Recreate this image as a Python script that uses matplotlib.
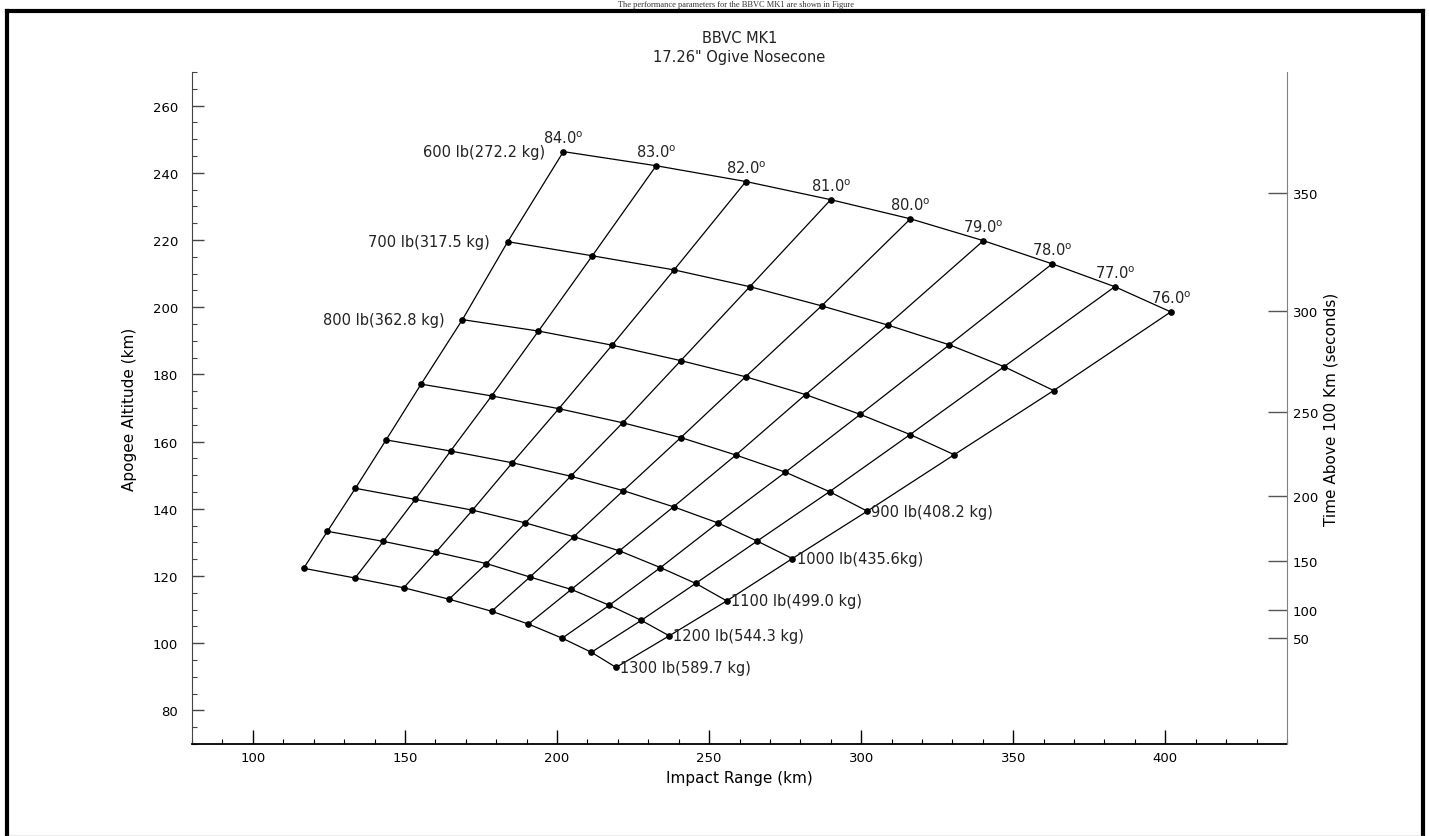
import numpy as np
import matplotlib.pyplot as plt
from matplotlib.ticker import MultipleLocator, NullLocator
from matplotlib.lines import Line2D

# launch angles (columns) and payload masses (rows)
angles = [84.0, 83.0, 82.0, 81.0, 80.0, 79.0, 78.0, 77.0, 76.0]
mass_lb = [600, 700, 800, 900, 1000, 1100, 1200, 1300]
mass_kg = ["272.2 kg", "317.5 kg", "362.8 kg", "408.2 kg", "435.6kg",
           "499.0 kg", "544.3 kg", "589.7 kg"]

# impact range (km) and apogee altitude (km), one value per launch angle
range_600 = [202.1, 232.6, 262.1, 290.0, 316.2, 340.2, 362.8, 383.4, 401.8]
apogee_600 = [246.3, 242.1, 237.4, 232.0, 226.3, 219.8, 212.9, 206.1, 198.6]
range_700 = [183.8, 211.6, 238.5, 263.4, 287.0, 308.7, 329.0, 347.0, 363.3]
apogee_700 = [219.5, 215.3, 211.1, 206.1, 200.4, 194.7, 188.8, 182.3, 175.2]
range_800 = [168.9, 193.9, 218.1, 240.7, 262.0, 281.7, 299.7, 316.1, 330.6]
apogee_800 = [196.3, 192.9, 188.7, 184.1, 179.3, 174.0, 168.1, 162.1, 156.1]
range_900 = [155.3, 178.5, 200.6, 221.6, 240.7, 258.8, 275.1, 289.6, 302.0]
apogee_900 = [177.1, 173.6, 169.8, 165.6, 161.2, 156.0, 150.9, 145.1, 139.3]
range_1000 = [143.8, 165.0, 185.3, 204.5, 221.8, 238.3, 252.9, 265.8, 277.4]
apogee_1000 = [160.5, 157.2, 153.7, 149.7, 145.4, 140.6, 135.8, 130.4, 125.2]
range_1100 = [133.7, 153.4, 172.2, 189.6, 205.5, 220.5, 234.0, 245.6, 255.8]
apogee_1100 = [146.1, 142.8, 139.6, 135.8, 131.7, 127.5, 122.5, 117.8, 112.6]
range_1200 = [124.5, 142.9, 160.2, 176.8, 191.1, 204.7, 217.2, 227.7, 236.9]
apogee_1200 = [133.3, 130.3, 127.1, 123.7, 119.7, 116.0, 111.3, 106.8, 102.2]
range_1300 = [116.7, 133.6, 149.6, 164.5, 178.5, 190.6, 201.7, 211.3, 219.4]
apogee_1300 = [122.3, 119.4, 116.5, 113.1, 109.5, 105.7, 101.5, 97.3, 92.8]

# right axis: time above 100 km (s) and the apogee altitude it lines up with
time_ticks = [50, 100, 150, 200, 250, 300, 350]
time_tick_alt = [101.5, 110.0, 124.4, 143.9, 168.9, 198.8, 234.1]

ranges = np.array([range_600, range_700, range_800, range_900,
                   range_1000, range_1100, range_1200, range_1300])
apogees = np.array([apogee_600, apogee_700, apogee_800, apogee_900,
                    apogee_1000, apogee_1100, apogee_1200, apogee_1300])

plt.rcParams['font.family'] = ['DejaVu Sans']
fig = plt.figure(figsize=(14.29, 8.37), dpi=100)
ax = fig.add_axes([0.1344, 0.1099, 0.7662, 0.8029])

# constant mass lines
for i in range(len(mass_lb)):
    ax.plot(ranges[i], apogees[i], color='black', lw=0.9,
            marker='o', ms=3.8, mfc='black', mec='black')
# constant angle lines
for j in range(len(angles)):
    ax.plot(ranges[:, j], apogees[:, j], color='black', lw=0.9)

# angle labels along the top row
for j, a in enumerate(angles):
    ax.annotate("%.1f$^{\\mathrm{o}}$" % a, (ranges[0, j], apogees[0, j]),
                xytext=(0, 4), textcoords='offset points',
                ha='center', va='bottom', fontsize=10.5, color='#222222')

# mass labels
for i, m in enumerate(mass_lb):
    txt = "%d lb(%s)" % (m, mass_kg[i])
    if i < 3:
        ax.annotate(txt, (ranges[i, 0], apogees[i, 0]), xytext=(-13, 0),
                    textcoords='offset points', ha='right', va='center',
                    fontsize=10.5, color='#222222')
    else:
        ax.annotate(txt, (ranges[i, -1], apogees[i, -1]), xytext=(3, 0),
                    textcoords='offset points', ha='left', va='center',
                    fontsize=10.5, color='#222222')

ax.set_xlim(80, 440)
ax.set_ylim(70, 270)
ax.set_xticks([100, 150, 200, 250, 300, 350, 400])
ax.xaxis.set_minor_locator(MultipleLocator(10))
ax.set_yticks(np.arange(80, 261, 20))
ax.yaxis.set_minor_locator(MultipleLocator(5))
ax.tick_params(axis='x', which='major', direction='in', length=10, width=1,
               labelsize=9.5, pad=5, color='black')
ax.tick_params(axis='x', which='minor', direction='in', length=3.5, width=0.8)
ax.tick_params(axis='y', which='major', direction='in', length=8.5, width=1,
               labelsize=9.5, pad=10, color='#444444')
ax.tick_params(axis='y', which='minor', direction='in', length=3.5, width=0.8,
               color='#444444')
ax.spines['top'].set_visible(False)
ax.spines['right'].set_visible(False)
ax.spines['bottom'].set_linewidth(1.3)
ax.spines['left'].set_color('#444444')

ax.set_xlabel("Impact Range (km)", fontsize=11)
ax.xaxis.set_label_coords(0.5, -0.038)
ax.set_ylabel("Apogee Altitude (km)", fontsize=11)
ax.yaxis.label.set_va('center')
ax.yaxis.set_label_coords(-0.057, 0.5)
ax.set_title("BBVC MK1\n17.26\" Ogive Nosecone", fontsize=10.5,
             linespacing=1.35, pad=8, color='#222222')

# secondary axis: time above 100 km
ax2 = ax.twinx()
ax2.set_ylim(ax.get_ylim())
ax2.set_yticks(time_tick_alt)
ax2.set_yticklabels([str(t) for t in time_ticks])
ax2.yaxis.set_minor_locator(NullLocator())
ax2.tick_params(axis='y', direction='in', length=14, width=1, color='#555555',
                labelsize=9.5, pad=4)
for s in ['top', 'left', 'bottom']:
    ax2.spines[s].set_visible(False)
ax2.spines['right'].set_color('#808080')
ax2.set_ylabel("Time Above 100 Km (seconds)", fontsize=11)
ax2.yaxis.label.set_va('center')
ax2.yaxis.set_label_coords(1.040, 0.5)

# page frame around the figure and the line of document text above it
W, H = 1429.0, 837.0
fig.add_artist(Line2D([7 / W, 7 / W], [0, 1 - 11.5 / H], color='black', lw=3))
fig.add_artist(Line2D([1423 / W, 1423 / W], [0, 1 - 11.5 / H], color='black', lw=3))
fig.add_artist(Line2D([7 / W, 1423 / W], [1 - 11.5 / H, 1 - 11.5 / H], color='black', lw=3))
fig.add_artist(Line2D([7 / W, 1423 / W], [0.5 / H, 0.5 / H], color='#999999', lw=1))
fig.text(0.515, 1 - 1 / H, "The performance parameters for the BBVC MK1 are shown in Figure",
         ha='center', va='top', fontsize=6, family='Liberation Serif', color='#333333')

fig.savefig("out.png", dpi=100)
